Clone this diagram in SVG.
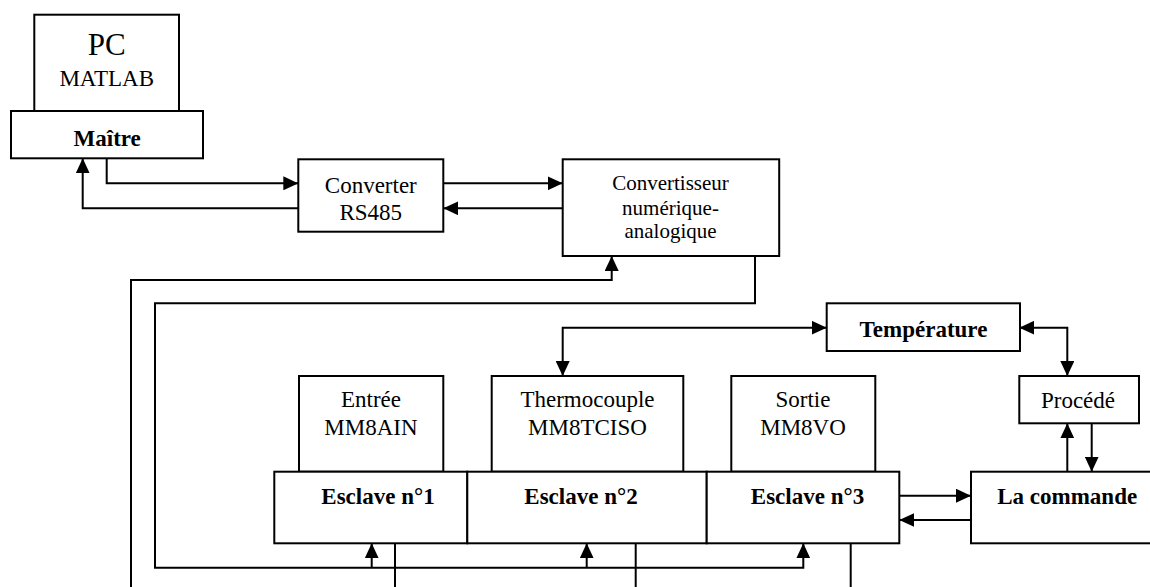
<svg xmlns="http://www.w3.org/2000/svg" width="1150" height="587" viewBox="0 0 1150 587">
<style>
.box{fill:#fff;stroke:#000;stroke-width:2}
.t{font-family:"Liberation Serif","Times New Roman",serif;font-size:23px;fill:#000;text-anchor:middle}
.b{font-weight:bold}
.s{font-size:21px}
.big{font-size:31px}
.c{fill:none;stroke:#000;stroke-width:2}
.a{marker-end:url(#ah)}
.aa{marker-start:url(#ah);marker-end:url(#ah)}
</style>
<defs>
<marker id="ah" markerUnits="userSpaceOnUse" markerWidth="15" markerHeight="14" refX="15" refY="7" orient="auto-start-reverse">
<path d="M0,0 L15,7 L0,14 Z" fill="#000"/>
</marker>
</defs>
<rect width="1150" height="587" fill="#fff"/>
<g id="pc">
<rect class="box" x="34.3" y="14.7" width="144.7" height="96.3"/>
<text class="t big" x="106.8" y="55">PC</text>
<text class="t" x="106.7" y="86">MATLAB</text>
</g>
<g id="maitre">
<rect class="box" x="11" y="111" width="192" height="47.3"/>
<text class="t b" x="107.2" y="146">Maître</text>
</g>
<g id="converter">
<rect class="box" x="298.3" y="159.3" width="145" height="72.4"/>
<text class="t" x="370.8" y="193.3">Converter</text>
<text class="t" x="370.8" y="220">RS485</text>
</g>
<g id="cna">
<rect class="box" x="562.7" y="159.3" width="216.5" height="96.7"/>
<text class="t s" x="670.5" y="190">Convertisseur</text>
<text class="t s" x="670.5" y="215">numérique-</text>
<text class="t s" x="670.5" y="238">analogique</text>
</g>
<g id="temperature">
<rect class="box" x="826.7" y="303.3" width="193.3" height="47.7"/>
<text class="t b" x="923.5" y="336.7">Température</text>
</g>
<g id="entree">
<rect class="box" x="299" y="376" width="144.3" height="95.7"/>
<text class="t" x="371" y="406.7">Entrée</text>
<text class="t" x="371" y="435">MM8AIN</text>
</g>
<g id="thermocouple">
<rect class="box" x="491.7" y="376" width="191.6" height="95.7"/>
<text class="t" x="587.5" y="406.7">Thermocouple</text>
<text class="t" x="587.5" y="435">MM8TCISO</text>
</g>
<g id="sortie">
<rect class="box" x="731.3" y="376" width="144" height="95.7"/>
<text class="t" x="803" y="406.7">Sortie</text>
<text class="t" x="803" y="435">MM8VO</text>
</g>
<g id="procede">
<rect class="box" x="1019.3" y="376" width="119.7" height="47.3"/>
<text class="t" x="1078" y="408.3">Procédé</text>
</g>
<g id="esclave1">
<rect class="box" x="274.3" y="471.7" width="193" height="71.6"/>
<text class="t b" x="378" y="504">Esclave n°1</text>
</g>
<g id="esclave2">
<rect class="box" x="467.3" y="471.7" width="239.4" height="71.6"/>
<text class="t b" x="581" y="504">Esclave n°2</text>
</g>
<g id="esclave3">
<rect class="box" x="706.7" y="471.7" width="192.6" height="71.6"/>
<text class="t b" x="807.5" y="504">Esclave n°3</text>
</g>
<g id="commande">
<rect class="box" x="971" y="471.7" width="200" height="71.6"/>
<text class="t b" x="1067.2" y="504">La commande</text>
</g>
<g id="connectors">
<path class="c a" d="M106.7,158.3 V183.3 H298.3"/>
<path class="c a" d="M298.3,208.3 H82.7 V158.3"/>
<path class="c a" d="M443.3,183.3 H562.7"/>
<path class="c a" d="M562.7,208.3 H443.3"/>
<path class="c a" d="M131,587 V280 H611.7 V256"/>
<path class="c a" d="M755,256 V303.3 H155 V567.7 H803.3 V543.3"/>
<path class="c a" d="M371.7,567.7 V543.3"/>
<path class="c a" d="M586.7,567.7 V543.3"/>
<path class="c" d="M395,543.3 V590"/>
<path class="c" d="M635.7,543.3 V590"/>
<path class="c" d="M850.7,543.3 V590"/>
<path class="c aa" d="M826.7,327.7 H562.7 V376"/>
<path class="c aa" d="M1019.3,327.7 H1067.3 V376"/>
<path class="c a" d="M1067.3,471.7 V423.3"/>
<path class="c a" d="M1091.7,423.3 V471.7"/>
<path class="c a" d="M899.3,495.7 H971"/>
<path class="c a" d="M971,520 H899.3"/>
</g>
</svg>
